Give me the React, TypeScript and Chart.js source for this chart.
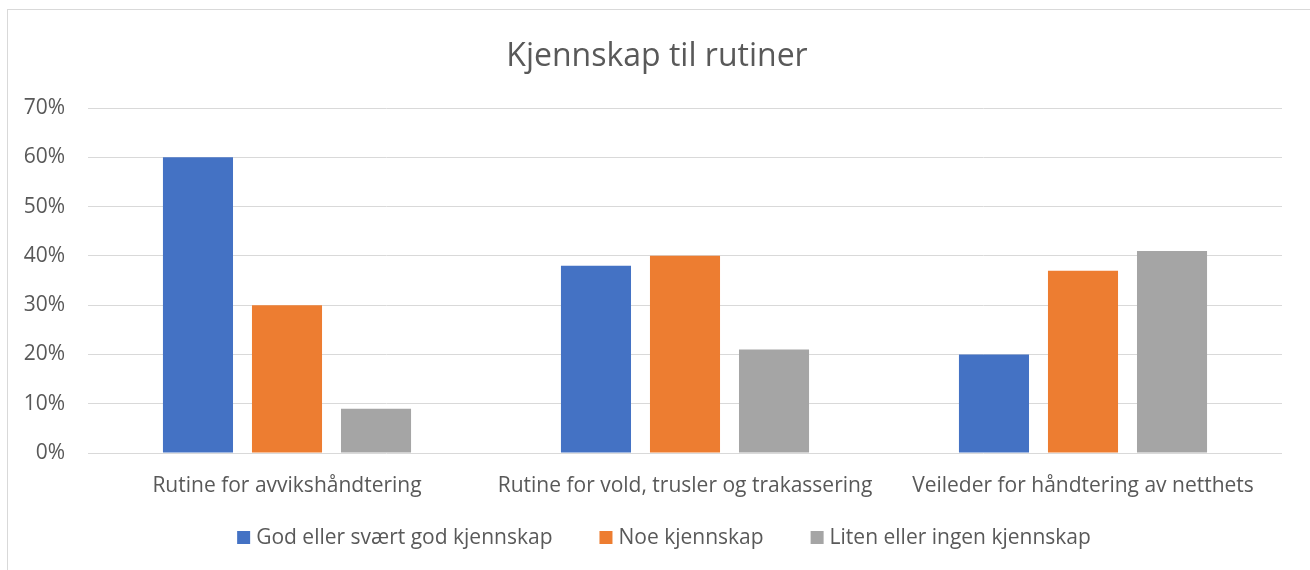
import React, { useEffect, useRef } from "react";
import { Chart, registerables } from "chart.js";

Chart.register(...registerables);

const categories = [
  "Rutine for avvikshåndtering",
  "Rutine for vold, trusler og trakassering",
  "Veileder for håndtering av netthets",
];
const seriesNames = [
  "God eller svært god kjennskap",
  "Noe kjennskap",
  "Liten eller ingen kjennskap",
];
const godKjennskap = [60, 38, 20];
const noeKjennskap = [30, 40, 37];
const litenKjennskap = [9, 21, 41];
const seriesColors = ["#4472c4", "#ed7d31", "#a5a5a5"];
const titleText = "Kjennskap til rutiner";

const FONT = "'Open Sans', sans-serif";
const TEXT_COLOR = "#595959";
const LABEL_SIZE = 21;

const titleAndLegend = {
  id: "titleAndLegend",
  afterDraw(chart: any) {
    const ctx = chart.ctx;
    ctx.save();
    // title
    ctx.font = `32px ${FONT}`;
    ctx.fillStyle = TEXT_COLOR;
    ctx.textAlign = "center";
    ctx.textBaseline = "middle";
    ctx.fillText(titleText, 657, 57);

    // legend
    const box = 13;
    const boxGap = 6;
    const itemGap = 47;
    ctx.font = `${LABEL_SIZE}px ${FONT}`;
    const items = chart.data.datasets.map((d: any) => ({
      label: d.label,
      color: d.backgroundColor,
      w: ctx.measureText(d.label).width,
    }));
    const total =
      items.reduce((s: number, it: any) => s + box + boxGap + it.w, 0) +
      itemGap * (items.length - 1);
    let x = chart.width / 2 + 9 - total / 2;
    const cy = 538.5;
    ctx.textAlign = "left";
    for (const it of items) {
      ctx.fillStyle = it.color;
      ctx.fillRect(x, cy - box / 2 - 1, box, box);
      x += box + boxGap;
      ctx.fillStyle = TEXT_COLOR;
      ctx.fillText(it.label, x, cy);
      x += it.w + itemGap;
    }
    ctx.restore();
  },
};

export default function App() {
  const ref = useRef<HTMLCanvasElement>(null);
  useEffect(() => {
    if (!ref.current) return;
    const values = [godKjennskap, noeKjennskap, litenKjennskap];
    const chart = new Chart(ref.current, {
      type: "bar",
      data: {
        labels: categories,
        datasets: seriesNames.map((name, i) => ({
          label: name,
          data: values[i],
          backgroundColor: seriesColors[i],
          borderWidth: 0,
          categoryPercentage: 0.671,
          barPercentage: 0.787,
        })),
      },
      options: {
        animation: false,
        responsive: true,
        maintainAspectRatio: false,
        layout: { padding: { top: 108, left: 0, right: 28, bottom: 0 } },
        plugins: {
          legend: { display: false },
          tooltip: { enabled: false },
          title: { display: false },
        },
        scales: {
          x: {
            grid: { display: false, drawTicks: false },
            border: { display: false },
            ticks: {
              color: TEXT_COLOR,
              font: { family: FONT, size: LABEL_SIZE },
              padding: 20,
              maxRotation: 0,
              autoSkip: false,
            },
            afterFit: (s: any) => {
              s.height = 117;
            },
          },
          y: {
            min: 0,
            max: 70,
            grid: { color: "#d9d9d9", lineWidth: 1, drawTicks: false },
            border: { display: false },
            ticks: {
              stepSize: 10,
              color: TEXT_COLOR,
              font: { family: FONT, size: LABEL_SIZE },
              padding: 23,
              callback: (v: any) => v + "%",
            },
            afterFit: (s: any) => {
              s.width = 88;
            },
          },
        },
      },
      plugins: [titleAndLegend],
    });
    return () => chart.destroy();
  }, []);

  return (
    <div
      style={{
        position: "fixed",
        left: 0,
        top: 0,
        width: 1310,
        height: 570,
        overflow: "hidden",
        background: "#ffffff",
      }}
    >
      <div
        style={{
          position: "absolute",
          left: 7,
          top: 9,
          width: 1330,
          height: 600,
          border: "1px solid #d9d9d9",
          boxSizing: "border-box",
        }}
      />
      <div style={{ position: "absolute", left: 0, top: 0, width: 1310, height: 570 }}>
        <canvas ref={ref} />
      </div>
    </div>
  );
}
